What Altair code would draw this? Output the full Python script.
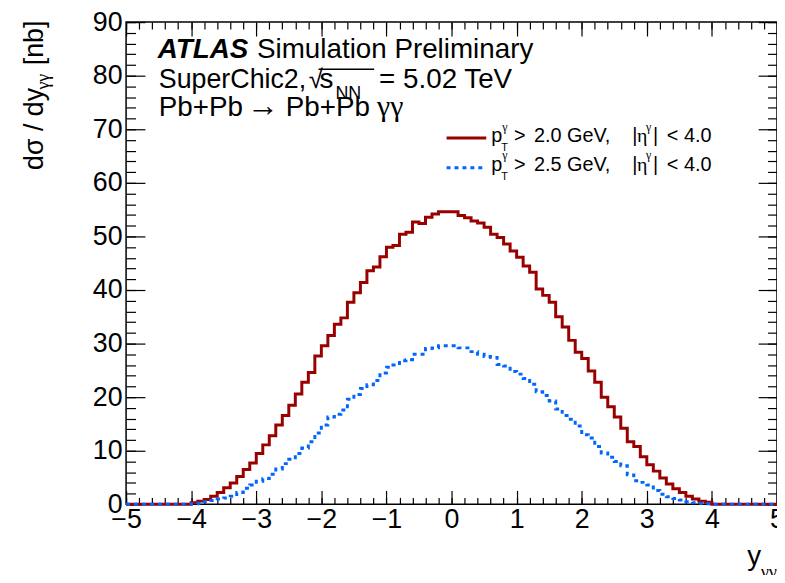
import altair as alt
import numpy as np
import pandas as pd

FONT = "Liberation Sans"
SERIF = "Liberation Serif"

# bin edges: 100 bins of width 0.1 from -5 to 5 (left edges), last edge closes the histogram
edges = np.round(np.linspace(-5.0, 5.0, 101), 1)

red_vals = [0.0] * 10 + [
    0.3, 0.6, 0.9, 1.5, 2.2, 3.1, 4.0, 5.2, 6.5, 7.7,
    9.5, 11.1, 12.8, 14.8, 16.6, 18.5, 20.6, 22.8, 24.6, 27.7,
    29.6, 31.5, 33.6, 34.8, 37.7, 39.5, 41.4, 43.6, 44.3, 46.2,
    48.0, 48.3, 50.4, 50.8, 52.7, 52.4, 53.6, 54.2, 54.6, 54.6,
    54.6, 53.9, 53.5, 52.9, 52.5, 51.7, 50.4, 49.8, 48.6, 47.3,
    46.1, 44.5, 43.3, 40.2, 39.0, 37.7, 35.0, 33.1, 30.6, 28.4,
    27.2, 24.9, 22.8, 20.0, 18.2, 16.3, 14.2, 11.7, 10.8, 8.9,
    7.4, 6.2, 4.9, 3.8, 2.9, 2.2, 1.5, 1.0, 0.6, 0.4,
] + [0.0] * 10

blue_vals = [0.0] * 10 + [
    0.1, 0.2, 0.5, 0.7, 1.0, 1.2, 1.5, 2.2, 3.0, 3.6,
    4.3, 4.8, 5.6, 6.6, 7.6, 8.4, 9.5, 10.5, 11.7, 13.3,
    14.8, 16.3, 16.8, 17.6, 19.6, 20.5, 21.6, 22.3, 23.1, 24.5,
    25.6, 26.0, 26.8, 27.0, 28.0, 28.0, 29.1, 29.2, 29.6, 29.6,
    29.6, 29.2, 29.2, 28.5, 28.0, 27.6, 27.4, 26.1, 25.8, 24.8,
    24.3, 23.5, 22.4, 21.0, 20.3, 19.3, 17.8, 16.6, 15.9, 14.6,
    13.0, 12.4, 10.8, 9.6, 8.8, 8.0, 7.2, 5.5, 4.4, 4.1,
    3.6, 2.6, 1.9, 1.4, 1.1, 0.8, 0.5, 0.3, 0.2, 0.1,
] + [0.0] * 10

x_major = [-5, -4, -3, -2, -1, 0, 1, 2, 3, 4, 5]
x_minor = [float(v) for v in np.round(np.linspace(-5, 5, 51), 1)]
y_major = [0, 10, 20, 30, 40, 50, 60, 70, 80, 90]
y_minor = list(range(0, 91, 2))

legend_cuts = ["2.0 GeV,", "2.5 GeV,"]

RED = "#990000"
BLUE = "#0066ff"

red_df = pd.DataFrame({"x": edges, "v": red_vals + [red_vals[-1]]})
blue_df = pd.DataFrame({"x": edges, "v": blue_vals + [blue_vals[-1]]})

xs = alt.Scale(domain=[-5, 5], nice=False, zero=False)
ys = alt.Scale(domain=[0, 90], nice=False, zero=False)


def make_axis(orient, values, size, labels, pad):
    kw = dict(orient=orient, values=values, tickSize=size, offset=-size, domain=False,
              grid=False, labels=labels, title=None, tickColor="black", tickWidth=1.2)
    if labels:
        kw.update(labelFontSize=27, labelFont=FONT, labelColor="black", labelPadding=pad,
                  labelFlush=False, labelOverlap=False)
    return alt.Axis(**kw)


red = alt.Chart(red_df).mark_line(interpolate="step-after", color=RED, strokeWidth=3).encode(
    x=alt.X("x:Q", scale=xs, axis=make_axis("bottom", x_major, 14, True, 2)),
    y=alt.Y("v:Q", scale=ys, axis=make_axis("left", y_major, 19, True, 4)),
)
blue = alt.Chart(blue_df).mark_line(interpolate="step-after", color=BLUE, strokeWidth=3,
                                    strokeDash=[4, 4]).encode(
    x=alt.X("x:Q", scale=xs, axis=make_axis("bottom", x_minor, 7, False, 0)),
    y=alt.Y("v:Q", scale=ys, axis=make_axis("left", y_minor, 9.5, False, 0)),
)
top_major = alt.Chart(red_df).mark_line(strokeOpacity=0).encode(
    x=alt.X("x:Q", scale=xs, axis=make_axis("top", x_major, 14, False, 0)),
    y=alt.Y("v:Q", scale=ys, axis=make_axis("right", y_major, 19, False, 0)),
)
top_minor = alt.Chart(red_df).mark_line(strokeOpacity=0).encode(
    x=alt.X("x:Q", scale=xs, axis=make_axis("top", x_minor, 7, False, 0)),
    y=alt.Y("v:Q", scale=ys, axis=make_axis("right", y_minor, 9.5, False, 0)),
)

one = alt.Data(values=[{"a": 1}])


def txt(t, x, y, size, angle=None, font=FONT, **kw):
    props = dict(text=t, align="left", baseline="alphabetic", fontSize=size, font=font,
                 color="black")
    if angle is not None:
        props["angle"] = angle
    props.update(kw)
    return alt.Chart(one).mark_text(**props).encode(x=alt.value(x), y=alt.value(y))


def rule(x1, x2, y, color, width, dash=None):
    props = dict(color=color, strokeWidth=width)
    if dash:
        props["strokeDash"] = dash
    return alt.Chart(one).mark_rule(**props).encode(
        x=alt.value(x1), x2=alt.value(x2), y=alt.value(y))


texts = [
    txt("ATLAS", 32, 36, 28, fontStyle="italic", fontWeight="bold"),
    txt("Simulation Preliminary", 132, 36, 28),
    txt("SuperChic2,", 33, 66.7, 27),
    txt("√", 184, 66.7, 26),
    rule(194, 250, 47.5, "black", 1.3),
    txt("s", 195, 66.7, 28),
    txt("NN", 211, 78, 18),
    txt("= 5.02 TeV", 255, 66.7, 28),
    txt("Pb+Pb", 33, 95, 28),
    txt("→", 122, 95, 32),
    txt("Pb+Pb", 161, 95, 28),
    txt("γγ", 253, 95, 30, font=SERIF),
    # legend
    rule(323, 363, 116.7, RED, 3),
    rule(323, 363, 146.7, BLUE, 3, [4, 4]),
]
for i, lab in enumerate(legend_cuts):
    base = 121.3 + 29 * i
    texts += [
        txt("p", 368, base, 20),
        txt("γ", 379, base - 12, 12, font=SERIF),
        txt("T", 378, base + 9, 11),
        txt(">", 391, base, 20),
        txt(lab, 411, base, 20),
        txt("|", 510, base, 20),
        txt("η", 515, base, 20, font=SERIF),
        txt("γ", 524, base - 12, 12, font=SERIF),
        txt("|", 531, base, 20),
        txt("< 4.0", 545, base, 20),
    ]
# axis titles
texts += [
    txt("dσ / dy", -84, 149, 27, angle=270),
    txt("γγ", -78, 68, 18, angle=270, font=SERIF),
    txt("[nb]", -84, 43.5, 27, angle=270),
    txt("y", 626, 547, 28),
    txt("γγ", 640, 560, 18, font=SERIF),
]

chart = alt.layer(red, blue, top_major, top_minor, *texts).resolve_scale(
    x="independent", y="independent"
).properties(
    width=656, height=486,
    autosize=alt.AutoSizeParams(type="none"),
    padding={"left": 119, "top": 12, "right": 0, "bottom": 69},
    background="white",
).configure_view(stroke="black", strokeWidth=1.5)

chart.save("out.html", embed_options={"renderer": "svg", "actions": False})
